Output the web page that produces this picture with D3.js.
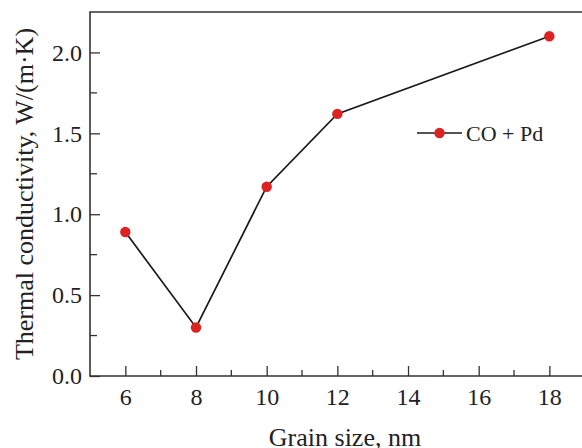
<!doctype html>
<html lang="en">
<head>
  <meta charset="utf-8">
  <title>Thermal conductivity vs grain size</title>
<style>
 body{ margin: 0; background: #fff; }
 #chart text{ font-family: "Liberation Serif", "DejaVu Serif", serif; fill: #222; }
</style>
</head>
<body>
  <div id="chart"></div>
  <script src="https://d3js.org/d3.v7.min.js"></script>
  <script type="text/javascript">

    var grainSize = [6, 8, 10, 12, 18];
    var conductivity = [0.89, 0.30, 1.17, 1.62, 2.10];
    var xMajorTicks = [6, 8, 10, 12, 14, 16, 18];
    var xMinorTicks = [7, 9, 11, 13, 15, 17];
    var yMajorTicks = [0, 0.5, 1.0, 1.5, 2.0];
    var yMinorTicks = [0.25, 0.75, 1.25, 1.75];
    var seriesName = 'CO + Pd';

    var chartWidth = 582;
    var chartHeight = 448;
    var plotLeft = 90, plotTop = 12, plotBottom = 376;
    var axisColor = '#333';
    var red = '#dd2222';

    var data = grainSize.map(function(g, i){ return { g: g, k: conductivity[i] }; });

    var svg = d3.select('#chart')
      .append('svg')
      .attr('width', chartWidth)
      .attr('height', chartHeight);

    var xscale = d3.scaleLinear().domain([5, 19]).range([plotLeft, 584.7]);
    var yscale = d3.scaleLinear().domain([0, 2.25]).range([plotBottom, plotTop]);

    // x axis, ticks point inward
    var xaxis = d3.axisBottom(xscale)
      .tickValues(xMajorTicks)
      .tickSize(-10)
      .tickFormat(d3.format('d'));

    var gx = svg.append('g')
      .attr('transform', 'translate(0,' + plotBottom + ')')
      .call(xaxis);
    gx.select('.domain').remove();
    gx.selectAll('line').attr('stroke', axisColor).attr('stroke-width', 1.3);
    gx.selectAll('text').attr('font-size', 24).attr('dy', '0.71em').attr('y', 12);

    gx.selectAll('.minor')
      .data(xMinorTicks)
      .enter()
      .append('line')
      .attr('class', 'minor')
      .attr('x1', function(d){ return xscale(d); })
      .attr('x2', function(d){ return xscale(d); })
      .attr('y1', 0).attr('y2', -6)
      .attr('stroke', axisColor).attr('stroke-width', 1.3);

    // y axis
    var yaxis = d3.axisLeft(yscale)
      .tickValues(yMajorTicks)
      .tickSize(-10)
      .tickFormat(d3.format('.1f'));

    var gy = svg.append('g')
      .attr('transform', 'translate(' + plotLeft + ',0)')
      .call(yaxis);
    gy.select('.domain').remove();
    gy.selectAll('line').attr('stroke', axisColor).attr('stroke-width', 1.3);
    gy.selectAll('text').attr('font-size', 24).attr('x', -8);

    gy.selectAll('.minor')
      .data(yMinorTicks)
      .enter()
      .append('line')
      .attr('class', 'minor')
      .attr('y1', function(d){ return yscale(d); })
      .attr('y2', function(d){ return yscale(d); })
      .attr('x1', 0).attr('x2', 7)
      .attr('stroke', axisColor).attr('stroke-width', 1.3);

    // frame: left, bottom, top (no right border)
    svg.append('path')
      .attr('d', 'M' + chartWidth + ',' + plotTop + 'H' + plotLeft + 'V' + plotBottom + 'H' + chartWidth)
      .attr('fill', 'none')
      .attr('stroke', axisColor)
      .attr('stroke-width', 1.6);

    // series
    var line = d3.line()
      .x(function(d){ return xscale(d.g); })
      .y(function(d){ return yscale(d.k); });

    svg.append('path')
      .datum(data)
      .attr('d', line)
      .attr('fill', 'none')
      .attr('stroke', '#1a1a1a')
      .attr('stroke-width', 1.7);

    svg.append('g').selectAll('circle')
      .data(data)
      .enter()
      .append('circle')
      .attr('cx', function(d){ return xscale(d.g); })
      .attr('cy', function(d){ return yscale(d.k); })
      .attr('r', 5.2)
      .attr('fill', red);

    // legend
    var legend = svg.append('g').attr('transform', 'translate(417,133)');
    legend.append('line')
      .attr('x1', 0).attr('x2', 45).attr('y1', 0).attr('y2', 0)
      .attr('stroke', '#1a1a1a').attr('stroke-width', 1.7);
    legend.append('circle')
      .attr('cx', 22.5).attr('cy', 0).attr('r', 5.2).attr('fill', red);
    legend.append('text')
      .attr('x', 49).attr('y', 0).attr('dy', '0.35em')
      .attr('font-size', 22)
      .text(seriesName);

    // axis titles
    svg.append('text')
      .attr('x', (plotLeft + chartWidth) / 2 + 9)
      .attr('y', 446)
      .attr('text-anchor', 'middle')
      .attr('font-size', 26)
      .text('Grain size, nm');

    svg.append('text')
      .attr('transform', 'translate(33,' + ((plotTop + plotBottom) / 2) + ') rotate(-90)')
      .attr('text-anchor', 'middle')
      .attr('font-size', 26)
      .text('Thermal conductivity, W/(m\u00b7K)');

  </script>
</body>
</html>
